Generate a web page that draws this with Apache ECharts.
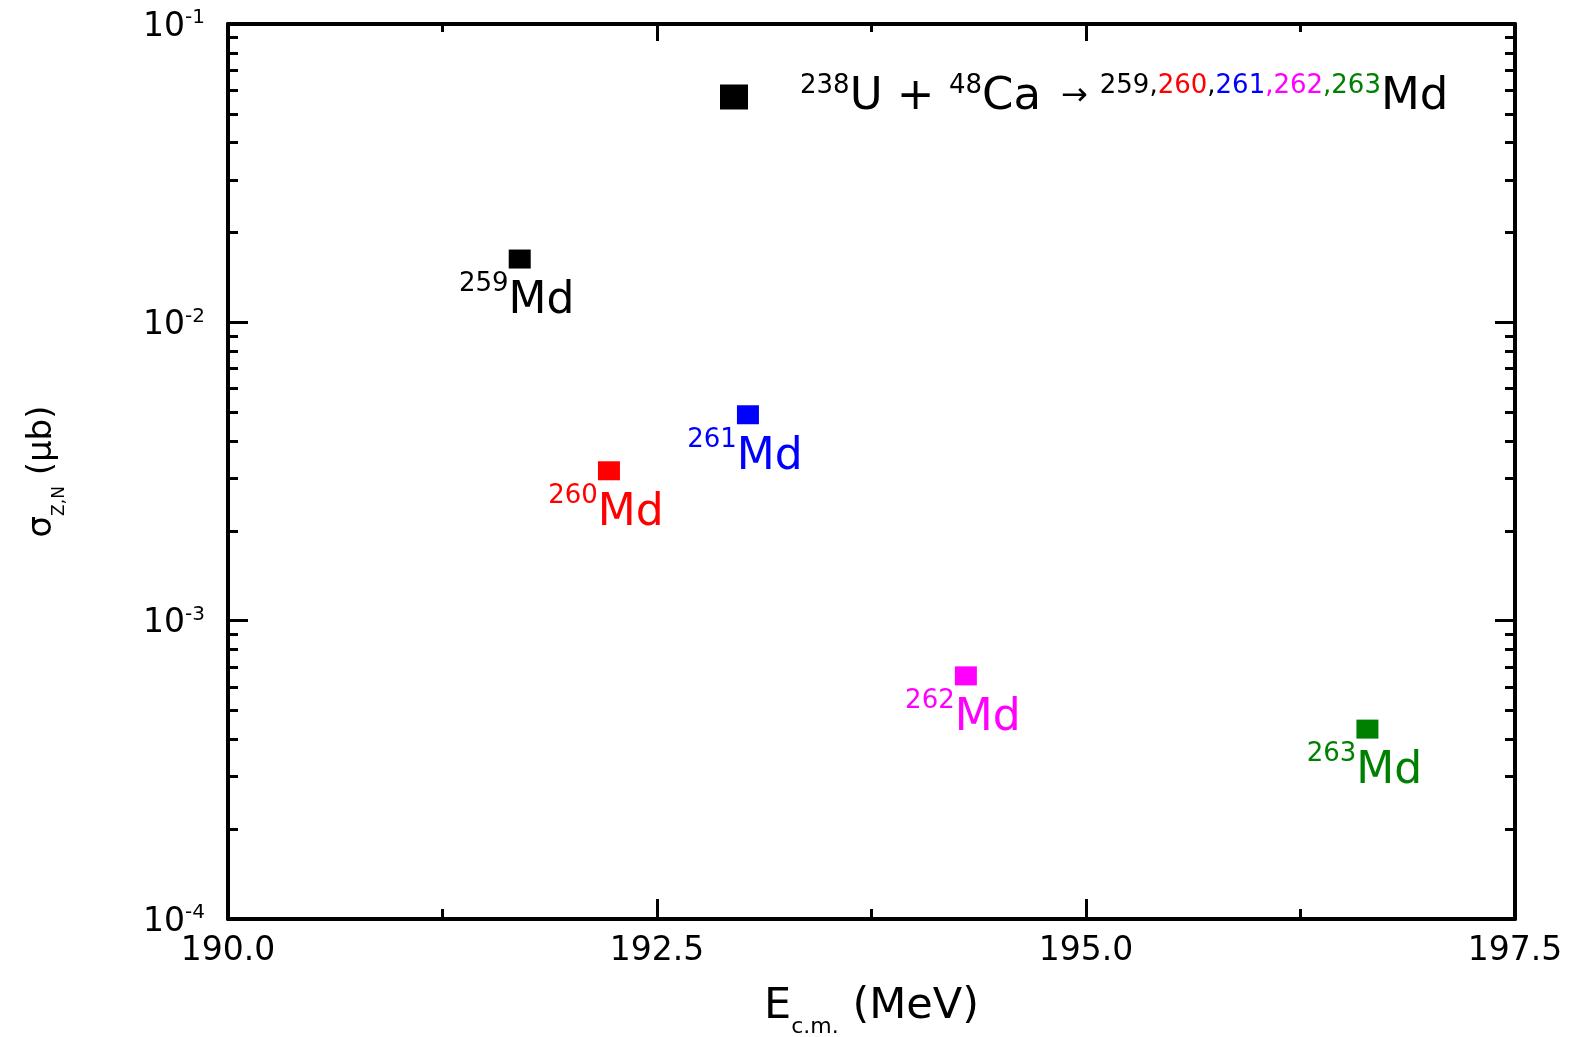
<!DOCTYPE html>
<html>
<head>
<meta charset="utf-8">
<script src="https://cdn.jsdelivr.net/npm/echarts@6/dist/echarts.min.js"></script>
<style>html,body{margin:0;padding:0;background:#fff;}#c{width:1573px;height:1037px;}</style>
</head>
<body>
<div id="c"></div>
<script>
// ---- data ----
const energies = [191.70, 192.22, 193.03, 194.30, 196.64];   // E_c.m. (MeV)
const sigmas   = [0.0163, 0.00318, 0.00490, 0.000653, 0.000433]; // sigma_Z,N (ub)
const masses   = ['259', '260', '261', '262', '263'];
const colors   = ['#000000', '#ff0000', '#0000ff', '#ff00ff', '#008000'];
const xTicks   = { min: 190, max: 197.5, interval: 2.5 };
const yTicks   = { min: 1e-4, max: 1e-1 };
const seriesName = '238U + 48Ca';

const FONT = 'DejaVu Sans';

const data = energies.map((e, i) => ({
  value: [e, sigmas[i]],
  itemStyle: { color: colors[i], opacity: 1 },
  label: {
    show: true,
    position: 'bottom',
    distance: 0,
    offset: [-3, 3],
    formatter: '{s|' + masses[i] + '}{m|Md}',
    rich: {
      s: { fontFamily: FONT, fontSize: 26, color: colors[i], padding: [0, 0, 34, 0] },
      m: { fontFamily: FONT, fontSize: 44, color: colors[i] }
    }
  }
}));

const chart = echarts.init(document.getElementById('c'), null, { renderer: 'canvas' });

const axisLineStyle = { color: '#000', width: 4 };
const tickStyle = { color: '#000', width: 3 };

const yLabelRich = {
  b: { fontFamily: FONT, fontSize: 33, color: '#000', padding: [6, 0, 0, 0] },
  s: { fontFamily: FONT, fontSize: 20, color: '#000', padding: [0, 0, 12, 0] }
};

const supPad = [0, 0, 22, 0];
const legendRich = {
  s0: { fontFamily: FONT, fontSize: 26, color: '#000', padding: [0, 0, 22, 47] },
  s: { fontFamily: FONT, fontSize: 26, color: '#000', padding: supPad },
  r: { fontFamily: FONT, fontSize: 26, color: '#ff0000', padding: supPad },
  bl: { fontFamily: FONT, fontSize: 26, color: '#0000ff', padding: supPad },
  mg: { fontFamily: FONT, fontSize: 26, color: '#ff00ff', padding: supPad },
  gr: { fontFamily: FONT, fontSize: 26, color: '#008000', padding: supPad },
  b: { fontFamily: FONT, fontSize: 45, color: '#000' },
  a: { fontFamily: FONT, fontSize: 32, color: '#000', padding: [0, 12, 0, 20] }
};

chart.setOption({
  animation: false,
  backgroundColor: '#fff',
  grid: { left: 228, right: 58, top: 24, bottom: 118, containLabel: false, outerBoundsMode: 'none' },
  legend: {
    data: [seriesName],
    left: 715,
    top: 68,
    icon: 'rect',
    itemWidth: 28,
    itemHeight: 25,
    selectedMode: false,
    formatter: function () {
      return '{s0|238}{b|U + }{s|48}{b|Ca}{a|→}{s|259,}{r|260}{s|,}{bl|261}{mg|,262}{gr|,263}{b|Md}';
    },
    textStyle: { rich: legendRich }
  },
  xAxis: [
    {
      type: 'value', position: 'bottom',
      min: xTicks.min, max: xTicks.max, interval: xTicks.interval,
      axisLine: { show: true, lineStyle: axisLineStyle },
      axisTick: { show: true, inside: true, length: 20, lineStyle: tickStyle },
      minorTick: { show: true, splitNumber: 2, length: 10, lineStyle: tickStyle },
      splitLine: { show: false },
      axisLabel: {
        margin: 16, fontFamily: FONT, fontSize: 33, color: '#000',
        formatter: v => v.toFixed(1)
      },
      name: '{b|E}{s|c.m.}{b| (MeV)}',
      nameLocation: 'middle',
      nameGap: 57,
      nameTextStyle: {
        rich: {
          b: { fontFamily: FONT, fontSize: 43, color: '#000' },
          s: { fontFamily: FONT, fontSize: 22, color: '#000', padding: [40, 0, 0, 0] }
        }
      }
    },
    {
      type: 'value', position: 'top',
      min: xTicks.min, max: xTicks.max, interval: xTicks.interval,
      axisLine: { show: true, lineStyle: axisLineStyle },
      axisTick: { show: true, inside: true, length: 17, lineStyle: tickStyle },
      minorTick: { show: true, splitNumber: 2, length: 8, lineStyle: tickStyle },
      splitLine: { show: false },
      axisLabel: { show: false }
    }
  ],
  yAxis: [
    {
      type: 'log', logBase: 10, position: 'left',
      min: yTicks.min, max: yTicks.max,
      axisLine: { show: true, lineStyle: axisLineStyle },
      axisTick: { show: true, inside: true, length: 20, lineStyle: tickStyle },
      minorTick: { show: true, splitNumber: 9, length: 10, lineStyle: tickStyle },
      splitLine: { show: false },
      axisLabel: {
        margin: 23,
        formatter: v => '{b|10}{s|' + Math.round(Math.log10(v)) + '}',
        rich: yLabelRich
      },
      name: '{b|σ}{s|Z,N}{b| (μb)}',
      nameLocation: 'middle',
      nameRotate: 90,
      nameGap: 160,
      nameTextStyle: {
        rich: {
          b: { fontFamily: FONT, fontSize: 34, color: '#000' },
          s: { fontFamily: FONT, fontSize: 17, color: '#000', padding: [35, 0, 0, 0] }
        }
      }
    },
    {
      type: 'log', logBase: 10, position: 'right',
      min: yTicks.min, max: yTicks.max,
      axisLine: { show: true, lineStyle: axisLineStyle },
      axisTick: { show: true, inside: true, length: 20, lineStyle: tickStyle },
      minorTick: { show: true, splitNumber: 9, length: 10, lineStyle: tickStyle },
      splitLine: { show: false },
      axisLabel: { show: false }
    }
  ],
  series: [
    {
      name: seriesName,
      type: 'scatter',
      xAxisIndex: 0,
      yAxisIndex: 0,
      symbol: 'rect',
      symbolSize: [22, 19],
      itemStyle: { color: '#000', opacity: 1 },
      emphasis: { disabled: true },
      data: data
    }
  ]
});
</script>
</body>
</html>
